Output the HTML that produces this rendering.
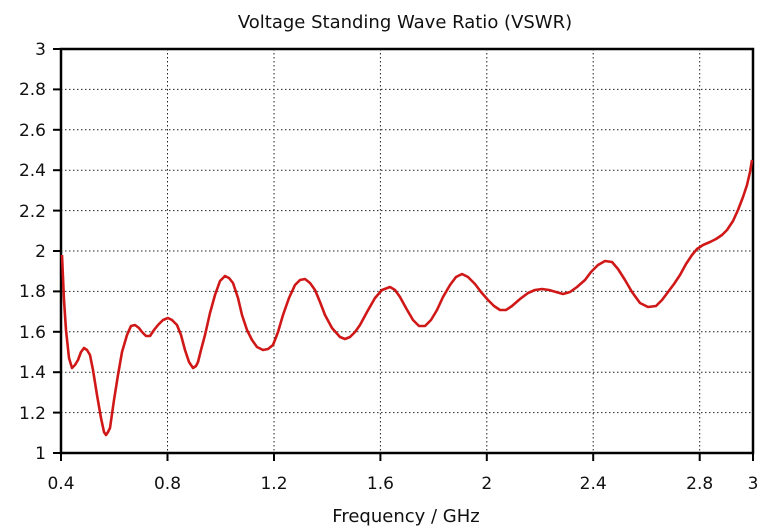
<!DOCTYPE html>
<html><head><style>body{margin:0;background:#fff}svg{display:block}text{font-family:"DejaVu Sans","Liberation Sans",sans-serif;fill:#111}</style></head><body>
<svg width="780" height="532" viewBox="0 0 780 532">
<g stroke="#222" stroke-width="1" stroke-dasharray="1.5,2.5" fill="none">
<line x1="61" y1="89.4" x2="753" y2="89.4"/><line x1="61" y1="129.8" x2="753" y2="129.8"/><line x1="61" y1="170.2" x2="753" y2="170.2"/><line x1="61" y1="210.6" x2="753" y2="210.6"/><line x1="61" y1="251" x2="753" y2="251"/><line x1="61" y1="291.4" x2="753" y2="291.4"/><line x1="61" y1="331.8" x2="753" y2="331.8"/><line x1="61" y1="372.2" x2="753" y2="372.2"/><line x1="61" y1="412.6" x2="753" y2="412.6"/>
<line x1="167.5" y1="49" x2="167.5" y2="453"/><line x1="274" y1="49" x2="274" y2="453"/><line x1="380.4" y1="49" x2="380.4" y2="453"/><line x1="486.8" y1="49" x2="486.8" y2="453"/><line x1="593.2" y1="49" x2="593.2" y2="453"/><line x1="699.7" y1="49" x2="699.7" y2="453"/>
</g>
<rect x="61" y="49" width="692" height="404" fill="none" stroke="#000" stroke-width="2.5"/>
<g stroke="#000" stroke-width="2">
<line x1="53" y1="49" x2="61" y2="49"/><line x1="53" y1="89.4" x2="61" y2="89.4"/><line x1="53" y1="129.8" x2="61" y2="129.8"/><line x1="53" y1="170.2" x2="61" y2="170.2"/><line x1="53" y1="210.6" x2="61" y2="210.6"/><line x1="53" y1="251" x2="61" y2="251"/><line x1="53" y1="291.4" x2="61" y2="291.4"/><line x1="53" y1="331.8" x2="61" y2="331.8"/><line x1="53" y1="372.2" x2="61" y2="372.2"/><line x1="53" y1="412.6" x2="61" y2="412.6"/><line x1="53" y1="453" x2="61" y2="453"/>
<line x1="61" y1="453" x2="61" y2="461"/><line x1="167.5" y1="453" x2="167.5" y2="461"/><line x1="274" y1="453" x2="274" y2="461"/><line x1="380.4" y1="453" x2="380.4" y2="461"/><line x1="486.8" y1="453" x2="486.8" y2="461"/><line x1="593.2" y1="453" x2="593.2" y2="461"/><line x1="699.7" y1="453" x2="699.7" y2="461"/><line x1="753" y1="453" x2="753" y2="461"/>
</g>
<g font-size="17" text-anchor="end">
<text x="46" y="55">3</text><text x="46" y="95">2.8</text><text x="46" y="136">2.6</text><text x="46" y="176">2.4</text><text x="46" y="217">2.2</text><text x="46" y="257">2</text><text x="46" y="297">1.8</text><text x="46" y="338">1.6</text><text x="46" y="378">1.4</text><text x="46" y="419">1.2</text><text x="46" y="459">1</text>
</g>
<g font-size="17" text-anchor="middle">
<text x="61" y="489">0.4</text><text x="167.5" y="489">0.8</text><text x="274" y="489">1.2</text><text x="380.4" y="489">1.6</text><text x="486.8" y="489">2</text><text x="593.2" y="489">2.4</text><text x="699.7" y="489">2.8</text><text x="753" y="489">3</text>
<text x="406" y="522" font-size="18">Frequency / GHz</text>
<text x="405" y="28" font-size="18">Voltage Standing Wave Ratio (VSWR)</text>
</g>
<polyline fill="none" stroke="#d01818" stroke-width="2.6" stroke-linejoin="round" points="62,255 64,300 66,330 69,358 72,368 75,365 78,360 81,352 84,348 87,350 90,355 93,370 97,395 101,418 104,432 106,435 108,432 110,428 114,400 118,375 122,352 127,335 131,326 135,325 139,328 142,332 146,336 150,336 154,330 158,325 163,320 168,318 172,320 177,325 181,335 185,350 189,362 193,368 196,366 198,362 201,350 205,335 210,313 215,295 220,281 225,276 229,278 233,283 238,298 242,315 247,330 252,340 257,347 263,350 268,349 273,345 278,332 283,315 289,298 295,285 300,280 305,279 310,283 315,290 320,302 325,315 332,328 340,337 345,339 350,337 355,332 360,325 367,312 375,298 382,290 390,287 395,290 400,297 406,308 413,320 419,326 425,326 431,320 437,310 443,297 450,285 456,277 462,274 468,277 475,284 481,292 488,300 494,306 500,310 506,310 512,306 520,299 528,293 535,290 542,289 549,290 556,292 563,294 570,292 577,287 585,280 591,272 598,265 605,261 612,262 618,269 625,280 632,292 640,303 648,307 656,306 662,300 668,292 674,284 680,275 686,264 692,255 697,249 703,245 710,242 716,239 722,235 727,230 733,221 738,210 743,197 747,185 750,172 752,160"/>
</svg>
</body></html>
